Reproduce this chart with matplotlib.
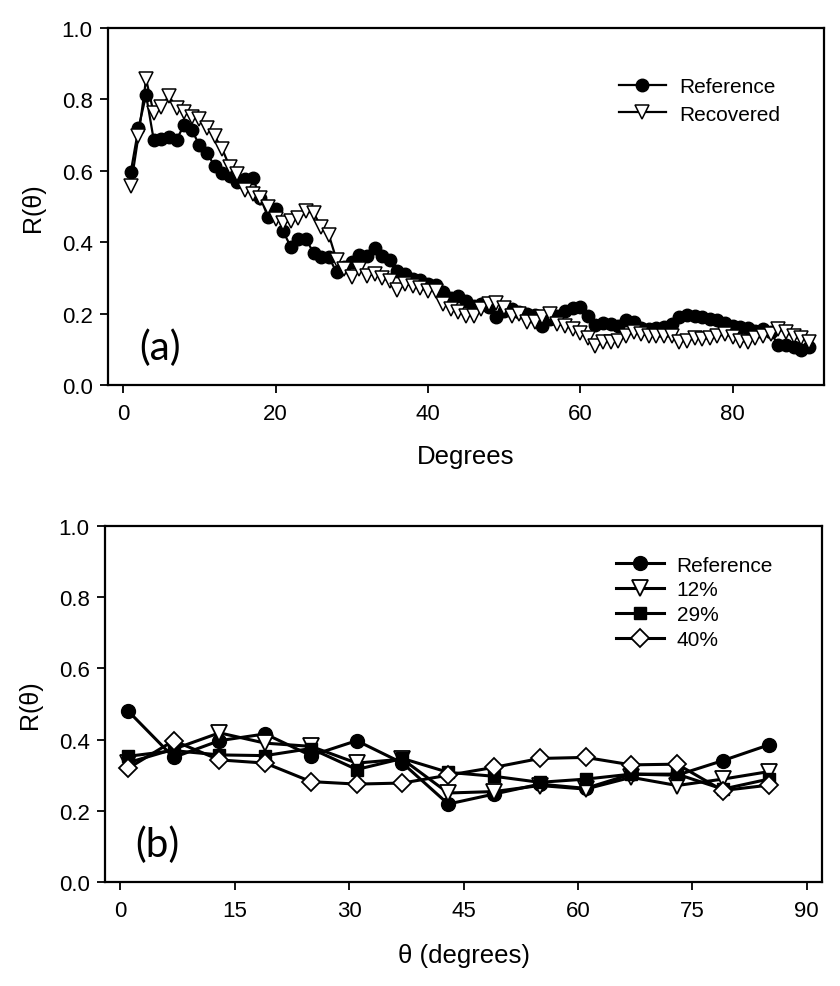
import matplotlib
matplotlib.use("Agg")
from matplotlib import pyplot as plt

plt.rcParams['font.family'] = ['Liberation Sans', 'DejaVu Sans']

# panel (a): R(theta) vs degrees, reference and recovered
deg_a = list(range(1, 91))
ref_a = [0.598, 0.72, 0.812, 0.687, 0.689, 0.694, 0.687, 0.729, 0.714, 0.672,
         0.65, 0.613, 0.594, 0.585, 0.57, 0.576, 0.58, 0.525, 0.471, 0.493,
         0.43, 0.387, 0.41, 0.409, 0.369, 0.358, 0.358, 0.316, 0.33, 0.344,
         0.364, 0.362, 0.384, 0.362, 0.35, 0.32, 0.311, 0.297, 0.295, 0.283,
         0.28, 0.261, 0.243, 0.25, 0.236, 0.222, 0.227, 0.218, 0.19, 0.208,
         0.213, 0.204, 0.199, 0.196, 0.166, 0.185, 0.194, 0.208, 0.215, 0.218,
         0.194, 0.168, 0.174, 0.171, 0.166, 0.183, 0.177, 0.159, 0.157, 0.159,
         0.162, 0.171, 0.19, 0.196, 0.192, 0.19, 0.185, 0.183, 0.174, 0.166,
         0.162, 0.159, 0.152, 0.157, 0.148, 0.111, 0.112, 0.106, 0.099, 0.106]
rec_a = [0.558, 0.698, 0.857, 0.761, 0.78, 0.81, 0.775, 0.766, 0.75, 0.745,
         0.719, 0.697, 0.661, 0.61, 0.59, 0.547, 0.535, 0.523, 0.498, 0.465,
         0.454, 0.46, 0.467, 0.486, 0.482, 0.442, 0.42, 0.351, 0.325, 0.302,
         0.325, 0.306, 0.311, 0.299, 0.292, 0.266, 0.283, 0.278, 0.271, 0.264,
         0.264, 0.227, 0.213, 0.204, 0.194, 0.194, 0.213, 0.227, 0.23, 0.215,
         0.194, 0.199, 0.176, 0.176, 0.19, 0.199, 0.171, 0.166, 0.157, 0.145,
         0.131, 0.108, 0.12, 0.121, 0.124, 0.138, 0.148, 0.143, 0.138, 0.136,
         0.136, 0.136, 0.121, 0.124, 0.131, 0.129, 0.131, 0.136, 0.143, 0.134,
         0.124, 0.12, 0.131, 0.136, 0.143, 0.157, 0.148, 0.136, 0.131, 0.121]

# panel (b): every 6 degrees, reference and three noise levels
deg_b = [1, 7, 13, 19, 25, 31, 37, 43, 49, 55, 61, 67, 73, 79, 85]
ref_b = [0.481, 0.35, 0.397, 0.416, 0.355, 0.397, 0.334, 0.219, 0.247, 0.275,
         0.263, 0.303, 0.30, 0.341, 0.385]
p12_b = [0.335, 0.373, 0.419, 0.39, 0.381, 0.334, 0.345, 0.25, 0.254, 0.271,
         0.261, 0.294, 0.271, 0.289, 0.31]
p29_b = [0.353, 0.369, 0.357, 0.355, 0.375, 0.316, 0.347, 0.308, 0.297, 0.28,
         0.289, 0.303, 0.303, 0.261, 0.289]
p40_b = [0.319, 0.397, 0.343, 0.334, 0.282, 0.275, 0.278, 0.30, 0.322, 0.347,
         0.35, 0.329, 0.331, 0.257, 0.272]

W, H = 840, 987
fig = plt.figure(figsize=(W / 100, H / 100), dpi=100)
ax1 = fig.add_axes([108 / W, 1 - 386 / H, 716 / W, 357 / H])
ax2 = fig.add_axes([105 / W, 1 - 883 / H, 717 / W, 356 / H])


def style_axes(ax, xticks):
    for sp in ax.spines.values():
        sp.set_linewidth(1.6)
    ax.set_ylim(0, 1.0)
    ax.set_xlim(-2, 92)
    ax.set_yticks([0, 0.2, 0.4, 0.6, 0.8, 1.0])
    ax.set_yticklabels(['0.0', '0.2', '0.4', '0.6', '0.8', '1.0'])
    ax.set_xticks(xticks)
    ax.tick_params(direction='out', length=6, width=1.3, labelsize=16,
                   top=False, right=False)
    ax.tick_params(axis='y', pad=5)
    ax.tick_params(axis='x', pad=7)
    ax.set_ylabel('R(θ)', fontsize=18)
    ax.yaxis.set_label_coords(-0.088, 0.5)


# (a)
ax1.plot(deg_a, ref_a, color='black', lw=1.6, marker='o', ms=9,
         mfc='black', mec='black', label='Reference')
ax1.plot(deg_a, rec_a, color='black', lw=1.6, marker='v', ms=10.5,
         mfc='white', mec='black', mew=1.1, label='Recovered')
style_axes(ax1, [0, 20, 40, 60, 80])
ax1.set_xlabel('Degrees', fontsize=18.5)
ax1.xaxis.set_label_coords(0.5, -0.165)
ax1.text(0.073, 0.105, '(a)', transform=ax1.transAxes, fontsize=29,
         family=['Lato', 'DejaVu Sans'], ha='center', va='center')
ax1.legend(loc='upper left', bbox_to_anchor=(0.713, 0.862), frameon=False,
           fontsize=15, borderpad=0, handlelength=2.3, handletextpad=0.6,
           labelspacing=0.4, borderaxespad=0)

# (b)
ax2.plot(deg_b, ref_b, color='black', lw=2.2, marker='o', ms=10,
         mfc='black', mec='black', label='Reference')
ax2.plot(deg_b, p12_b, color='black', lw=2.2, marker='v', ms=11,
         mfc='white', mec='black', mew=1.3, label='12%')
ax2.plot(deg_b, p29_b, color='black', lw=2.2, marker='s', ms=9,
         mfc='black', mec='black', label='29%')
ax2.plot(deg_b, p40_b, color='black', lw=2.2, marker='D', ms=9.5,
         mfc='white', mec='black', mew=1.3, label='40%')
style_axes(ax2, [0, 15, 30, 45, 60, 75, 90])
ax2.set_xlabel('θ (degrees)', fontsize=18.5)
ax2.xaxis.set_label_coords(0.5, -0.17)
ax2.text(0.073, 0.105, '(b)', transform=ax2.transAxes, fontsize=29,
         family=['Lato', 'DejaVu Sans'], ha='center', va='center')
ax2.legend(loc='upper left', bbox_to_anchor=(0.713, 0.917), frameon=False,
           fontsize=15, borderpad=0, handlelength=2.3, handletextpad=0.6,
           labelspacing=0.28, borderaxespad=0)

fig.savefig('out.png', dpi=100)
